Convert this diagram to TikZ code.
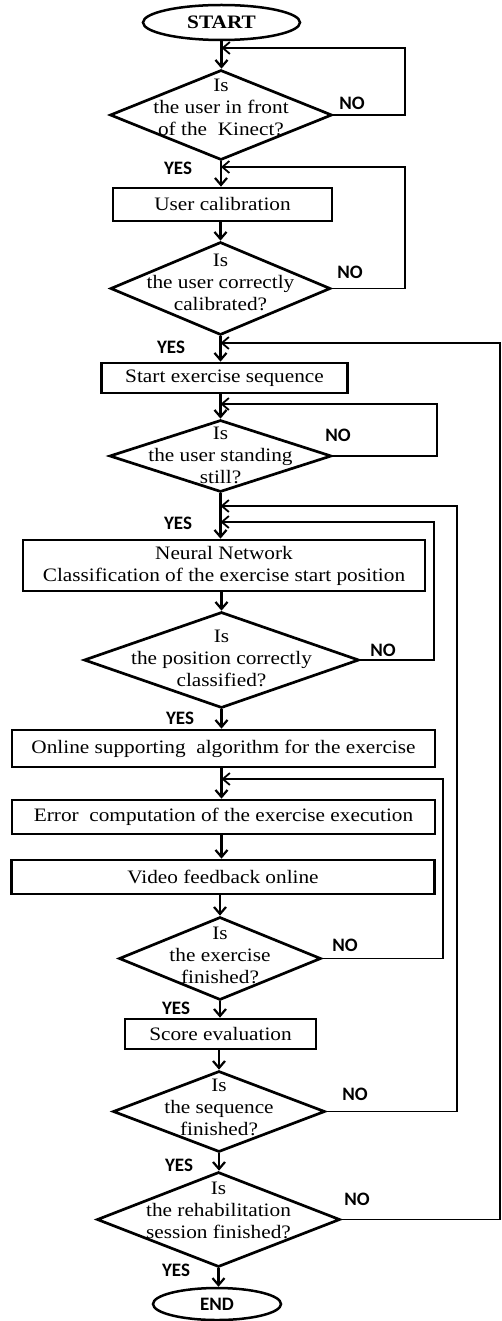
\documentclass[tikz,border=0pt]{standalone}
\usepackage{fontspec}
\setmainfont[FakeStretch=1.12]{Liberation Serif}
\newfontfamily\lblfont{Carlito}
\usetikzlibrary{shapes.geometric,arrows.meta}
\begin{document}
\begin{tikzpicture}[x=1pt,y=-1pt,
  txt/.style={font=\fontsize{19}{22}\selectfont, align=center, inner sep=0pt},
  boxnode/.style={draw, line width=2.7pt, rectangle, inner sep=2pt, font=\fontsize{19}{22}\selectfont, align=center},
  dia/.style={draw, line width=2.7pt, diamond, inner sep=0pt},
  term/.style={draw, line width=2.5pt, ellipse, inner sep=0pt},
  lbl/.style={font=\lblfont\bfseries\fontsize{19}{19}\selectfont, inner sep=0pt},
  arr/.style={line width=2.2pt, -{Straight Barb[length=7pt,width=12pt]}},
  back/.style={line width=1.8pt, -{Straight Barb[length=7pt,width=12pt]}}
]
\useasboundingbox (0,0) rectangle (502,1321);
% terminals, boxes, decisions
\node[term, minimum width=157pt, minimum height=35pt, font=\bfseries\fontsize{19}{22}\selectfont] (start) at (221.5,22.5) {START};
\node[dia, minimum width=222pt, minimum height=90pt] (d1) at (221,115) {};
\node[txt] (t1) at (221,107) {Is\\the user in front\\of the~ Kinect?};
\node[boxnode, minimum width=219pt, minimum height=33pt] (b1) at (222.5,204.5) {User calibration};
\node[dia, minimum width=220pt, minimum height=93pt] (d2) at (220.5,288.5) {};
\node[txt] (t2) at (220.5,282) {Is\\the user correctly\\calibrated?};
\node[boxnode, minimum width=246pt, minimum height=30pt] (b2) at (224.5,378) {Start exercise sequence};
\node[dia, minimum width=222pt, minimum height=72pt] (d3) at (220.5,456) {};
\node[txt] (t3) at (220.5,455) {Is\\the user standing\\still?};
\node[boxnode, minimum width=402pt, minimum height=51pt] (b3) at (224,565.5) {Neural Network\\Classification of the exercise start position};
\node[dia, minimum width=275pt, minimum height=96pt] (d4) at (221.5,660) {};
\node[txt] (t4) at (221.5,658) {Is\\the position correctly\\classified?};
\node[boxnode, minimum width=423pt, minimum height=37pt] (b4) at (223.5,748.5) {Online supporting~ algorithm for the exercise};
\node[boxnode, minimum width=423pt, minimum height=34pt] (b5) at (223.5,817) {Error~ computation of the exercise execution};
\node[boxnode, minimum width=423pt, minimum height=34pt] (b6) at (223,877) {Video feedback online};
\node[dia, minimum width=202pt, minimum height=83pt] (d5) at (220,958.5) {};
\node[txt] (t5) at (220,955) {Is\\the exercise\\finished?};
\node[boxnode, minimum width=191pt, minimum height=30pt] (b7) at (220.5,1034) {Score evaluation};
\node[dia, minimum width=212pt, minimum height=81pt] (d6) at (219,1111.5) {};
\node[txt] (t6) at (219,1107) {Is\\the sequence\\finished?};
\node[dia, minimum width=243pt, minimum height=95pt] (d7) at (218.5,1219.5) {};
\node[txt] (t7) at (218.5,1210) {Is\\the rehabilitation\\session finished?};
\node[term, minimum width=128pt, minimum height=32pt, font=\lblfont\bfseries\fontsize{19}{22}\selectfont] (end) at (217,1304) {END};
% labels
\node[lbl] (no1) at (352,103) {NO};
\node[lbl] (yes1) at (178,168) {YES};
\node[lbl] (no2) at (350,272) {NO};
\node[lbl] (yes2) at (171,347) {YES};
\node[lbl] (no3) at (338,435) {NO};
\node[lbl] (yes3) at (178,523) {YES};
\node[lbl] (no4) at (383,650) {NO};
\node[lbl] (yes4) at (180,718) {YES};
\node[lbl] (no5) at (345,945) {NO};
\node[lbl] (yes5) at (176,1008) {YES};
\node[lbl] (no6) at (355,1094) {NO};
\node[lbl] (yes6) at (179,1165) {YES};
\node[lbl] (no7) at (357,1199) {NO};
\node[lbl] (yes7) at (176,1270) {YES};
% junctions on main axis
\coordinate (j1) at (221.5,48);
\coordinate (j2) at (221,167);
\coordinate (j3) at (220.5,343);
\coordinate (j4) at (220.5,404);
\coordinate (j5) at (220.5,506);
\coordinate (j6) at (220.5,522);
\coordinate (j7) at (221.5,779);
% x positions of return lines
\coordinate (r1) at (405,0);
\coordinate (r2) at (405,0);
\coordinate (r3) at (437,0);
\coordinate (r4) at (434,0);
\coordinate (r5) at (443,0);
\coordinate (r6) at (457,0);
\coordinate (r7) at (500,0);
% main flow
\draw[arr] (start.south) -- (start.south |- d1.north);
\draw[arr] (d1.south) -- (d1.south |- b1.north);
\draw[arr] (b1.south -| d2.north) -- (d2.north);
\draw[arr] (d2.south) -- (d2.south |- b2.north);
\draw[arr] (b2.south -| d3.north) -- (d3.north);
\draw[arr] (d3.south) -- (d3.south |- b3.north);
\draw[arr] (b3.south -| d4.north) -- (d4.north);
\draw[arr] (d4.south) -- (d4.south |- b4.north);
\draw[arr] (b4.south -| j7) -- (b5.north -| j7);
\draw[arr] (b5.south -| j7) -- (b6.north -| j7);
\draw[arr] (b6.south -| d5.north) -- (d5.north);
\draw[arr] (d5.south) -- (d5.south |- b7.north);
\draw[arr] (b7.south -| d6.north) -- (d6.north);
\draw[arr] (d6.south) -- (d6.south |- d7.north);
\draw[arr] (d7.south) -- (d7.south |- end.north);
% return loops
\draw[back] (d1.east) -| (r1 |- j1) -- (j1);
\draw[back] (d2.east) -| (r2 |- j2) -- (j2);
\draw[back] (d3.east) -| (r3 |- j4) -- (j4);
\draw[back] (d4.east) -| (r4 |- j6) -- (j6);
\draw[back] (d5.east) -| (r5 |- j7) -- (j7);
\draw[back] (d6.east) -| (r6 |- j5) -- (j5);
\draw[back] (d7.east) -| (r7 |- j3) -- (j3);
\end{tikzpicture}
\end{document}
